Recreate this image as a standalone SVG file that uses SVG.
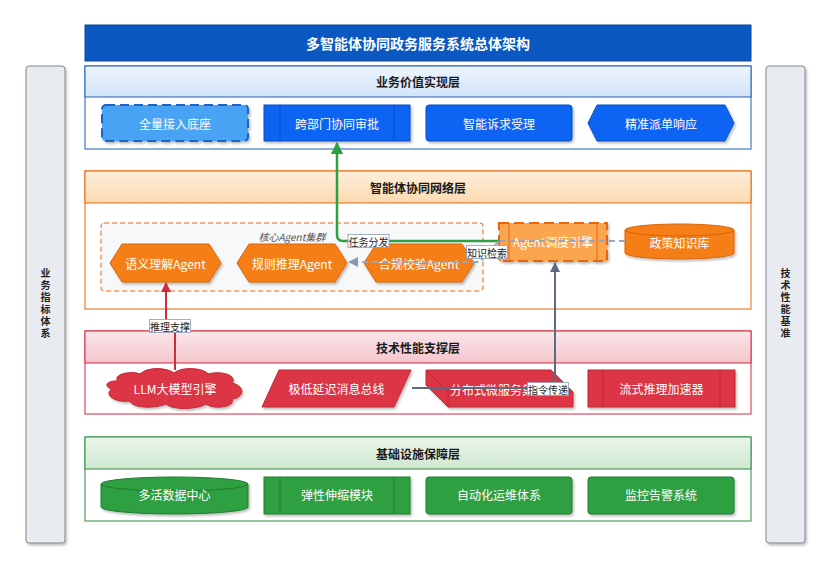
<svg xmlns="http://www.w3.org/2000/svg" width="833" height="572" viewBox="0 0 833 572">
  <defs>
    <linearGradient id="gBlue" x1="0" y1="0" x2="0" y2="1">
      <stop offset="0" stop-color="#eef4fd"/>
      <stop offset="1" stop-color="#d3e4fa"/>
    </linearGradient>
    <linearGradient id="gOrange" x1="0" y1="0" x2="0" y2="1">
      <stop offset="0" stop-color="#fdeedb"/>
      <stop offset="1" stop-color="#fcdab0"/>
    </linearGradient>
    <linearGradient id="gRed" x1="0" y1="0" x2="0" y2="1">
      <stop offset="0" stop-color="#fae6e9"/>
      <stop offset="1" stop-color="#f3c6cd"/>
    </linearGradient>
    <linearGradient id="gGreen" x1="0" y1="0" x2="0" y2="1">
      <stop offset="0" stop-color="#eaf5ea"/>
      <stop offset="1" stop-color="#cfe8d1"/>
    </linearGradient>
    <filter id="shadow" x="-10%" y="-20%" width="130%" height="150%">
      <feDropShadow dx="1.5" dy="2" stdDeviation="1.2" flood-color="#000" flood-opacity="0.25"/>
    </filter>
    <marker id="arrGreen" viewBox="0 0 10 10" refX="9" refY="5" markerWidth="5" markerHeight="5" orient="auto">
      <path d="M0,0 L10,5 L0,10 Z" fill="#2ea043"/>
    </marker>
    <marker id="arrGray" viewBox="0 0 10 10" refX="9" refY="5" markerWidth="5" markerHeight="5" orient="auto">
      <path d="M0,0 L10,5 L0,10 Z" fill="#8a9ab0"/>
    </marker>
    <marker id="arrRed" viewBox="0 0 10 10" refX="9" refY="5" markerWidth="5" markerHeight="5" orient="auto">
      <path d="M0,0 L10,5 L0,10 Z" fill="#d6293b"/>
    </marker>
    <marker id="arrSlate" viewBox="0 0 10 10" refX="9" refY="5" markerWidth="5" markerHeight="5" orient="auto">
      <path d="M0,0 L10,5 L0,10 Z" fill="#5a6a80"/>
    </marker>
  </defs>
  <style>
    text { font-family: "Noto Sans CJK SC", "Noto Sans", "Liberation Sans", sans-serif; }
    .nodeText { font-size: 12px; fill: #ffffff; text-anchor: middle; dominant-baseline: central; }
    .hdrText { font-size: 12px; font-weight: bold; fill: #1a1a1a; text-anchor: middle; dominant-baseline: central; }
    .sideText { font-size: 10px; font-weight: bold; fill: #222; text-anchor: middle; writing-mode: vertical-rl; letter-spacing: 2px; }
    .lbl { font-size: 10px; fill: #222; text-anchor: middle; dominant-baseline: central; }
    .lblBox { fill: #ffffff; stroke: #8a9bb5; stroke-width: 0.8; }
    .side { fill: #e8ebef; stroke: #80858c; stroke-width: 1; filter: url(#shadow); }
    .blueNode { fill: #0d63f2; stroke: #0a4fbf; stroke-width: 1; filter: url(#shadow); }
    .orangeNode { fill: #f57f17; stroke: #d9640b; stroke-width: 1; filter: url(#shadow); }
    .redNode { fill: #dc3545; stroke: #c02636; stroke-width: 1; filter: url(#shadow); }
    .greenNode { fill: #2ea043; stroke: #1f7a31; stroke-width: 1; filter: url(#shadow); }
    .inner { fill: none; stroke-width: 1; }
  </style>

  <rect width="833" height="572" fill="#ffffff"/>

  <!-- side panels -->
  <g id="side-business">
    <rect class="side" x="26" y="66" width="39" height="477" rx="3"/>
    <text class="sideText" x="45.5" y="304">业务指标体系</text>
  </g>
  <g id="side-tech">
    <rect class="side" x="766" y="66" width="39" height="477" rx="3"/>
    <text class="sideText" x="785.5" y="304">技术性能基准</text>
  </g>

  <!-- title -->
  <g id="title">
    <rect x="85" y="25" width="666" height="36" fill="#0b58c2" stroke="#0a4696" stroke-width="1"/>
    <text x="418" y="43" font-size="14px" font-weight="bold" fill="#ffffff" text-anchor="middle" dominant-baseline="central">多智能体协同政务服务系统总体架构</text>
  </g>

  <!-- layer: business value -->
  <g id="layer-business">
    <rect x="85" y="66" width="666" height="83" fill="#ffffff" stroke="#1d5fb8" stroke-width="1"/>
    <rect x="85" y="66" width="666" height="31" fill="url(#gBlue)" stroke="#1d5fb8" stroke-width="1"/>
    <text class="hdrText" x="418" y="81.5">业务价值实现层</text>
  </g>
  <g id="node-access">
    <rect x="102" y="105" width="146" height="36" rx="4" fill="#4aa3f4" stroke="#1a63c8" stroke-width="2" stroke-dasharray="9 5" filter="url(#shadow)"/>
    <text class="nodeText" x="175" y="123">全量接入底座</text>
  </g>
  <g id="node-approval">
    <rect class="blueNode" x="264" y="105" width="146" height="36"/>
    <path class="inner" d="M280,105 V141 M394,105 V141" stroke="#0a4fbf"/>
    <text class="nodeText" x="337" y="123">跨部门协同审批</text>
  </g>
  <g id="node-request">
    <rect class="blueNode" x="426" y="105" width="146" height="36" rx="3"/>
    <text class="nodeText" x="499" y="123">智能诉求受理</text>
  </g>
  <g id="node-dispatch">
    <polygon class="blueNode" points="588,123 597,105 725,105 734,123 725,141 597,141"/>
    <text class="nodeText" x="661" y="123">精准派单响应</text>
  </g>

  <!-- layer: agent network -->
  <g id="layer-agents">
    <rect x="85" y="171" width="666" height="138" fill="#ffffff" stroke="#e8650c" stroke-width="1"/>
    <rect x="85" y="171" width="666" height="32" fill="url(#gOrange)" stroke="#e8650c" stroke-width="1"/>
    <text class="hdrText" x="418" y="187">智能体协同网络层</text>
  </g>
  <g id="cluster-core">
    <rect x="101" y="223" width="382" height="68" rx="3" fill="#f6f8fa" stroke="#e8650c" stroke-width="1" stroke-dasharray="5 3"/>
    <text x="292" y="236" font-size="10px" font-style="italic" fill="#555" text-anchor="middle" dominant-baseline="central">核心Agent集群</text>
  </g>
  <g id="node-semantic">
    <polygon class="orangeNode" points="110,263 122,244 209,244 221,263 209,282 122,282"/>
    <text class="nodeText" x="165.5" y="263">语义理解Agent</text>
  </g>
  <g id="node-reasoning">
    <polygon class="orangeNode" points="237,263 249,244 335,244 347,263 335,282 249,282"/>
    <text class="nodeText" x="292" y="263">规则推理Agent</text>
  </g>
  <g id="node-compliance">
    <polygon class="orangeNode" points="364,263 376,244 462,244 474,263 462,282 376,282"/>
    <text class="nodeText" x="419" y="263">合规校验Agent</text>
  </g>
  <g id="node-scheduler">
    <rect x="499" y="223" width="108" height="38" fill="#fba650" stroke="#e8650c" stroke-width="2" stroke-dasharray="10 5" filter="url(#shadow)"/>
    <path class="inner" d="M509,223 V261 M597,223 V261" stroke="#e8650c" stroke-width="2"/>
    <text class="nodeText" x="553" y="241">Agent调度引擎</text>
  </g>
  <g id="node-policy-db">
    <path class="orangeNode" d="M625,230 A54.5,6 0 0 1 734,230 V253 A54.5,6 0 0 1 625,253 Z"/>
    <path class="inner" d="M625,230 A54.5,6 0 0 0 734,230" stroke="#d9640b"/>
    <text class="nodeText" x="679.5" y="242">政策知识库</text>
  </g>

  <!-- layer: technical support -->
  <g id="layer-tech">
    <rect x="85" y="331" width="666" height="83" fill="#ffffff" stroke="#d6293b" stroke-width="1"/>
    <rect x="85" y="331" width="666" height="32" fill="url(#gRed)" stroke="#d6293b" stroke-width="1"/>
    <text class="hdrText" x="418" y="347">技术性能支撑层</text>
  </g>
  <g id="node-llm">
    <path class="redNode" d="M118,381 C112,375 130,370 140,374 C148,366 168,368 174,373 C182,366 204,368 208,374 C222,370 238,376 232,383 C246,386 244,398 232,399 C236,407 214,410 206,404 C196,410 172,410 166,404 C154,409 132,408 130,401 C112,403 104,393 112,389 C102,386 108,380 118,381 Z"/>
    <text class="nodeText" x="175" y="388">LLM大模型引擎</text>
  </g>
  <g id="node-bus">
    <polygon class="redNode" points="279,370 411,370 394,407 262,407"/>
    <text class="nodeText" x="336.5" y="388">极低延迟消息总线</text>
  </g>
  <g id="node-microservice">
    <polygon class="redNode" points="426,370 551,370 573,392 573,407 448,407 426,385"/>
    <path class="inner" d="M426,370 L448,392 H573 M448,392 V407" stroke="#c02636"/>
    <text class="nodeText" x="498" y="389">分布式微服务集群</text>
  </g>
  <g id="node-accelerator">
    <rect class="redNode" x="588" y="370" width="147" height="37"/>
    <path class="inner" d="M603,370 V407 M720,370 V407" stroke="#c02636"/>
    <text class="nodeText" x="661.5" y="388.5">流式推理加速器</text>
  </g>

  <!-- layer: infrastructure -->
  <g id="layer-infra">
    <rect x="85" y="437" width="666" height="84" fill="#ffffff" stroke="#2f8a3e" stroke-width="1"/>
    <rect x="85" y="437" width="666" height="32" fill="url(#gGreen)" stroke="#2f8a3e" stroke-width="1"/>
    <text class="hdrText" x="418" y="453">基础设施保障层</text>
  </g>
  <g id="node-datacenter">
    <path class="greenNode" d="M101,484 A73.5,7 0 0 1 248,484 V507 A73.5,7 0 0 1 101,507 Z"/>
    <path class="inner" d="M101,484 A73.5,7 0 0 0 248,484" stroke="#1f7a31"/>
    <text class="nodeText" x="174.5" y="494">多活数据中心</text>
  </g>
  <g id="node-scaling">
    <rect class="greenNode" x="264" y="477" width="146" height="37"/>
    <path class="inner" d="M280,477 V514 M394,477 V514" stroke="#1f7a31"/>
    <text class="nodeText" x="337" y="494">弹性伸缩模块</text>
  </g>
  <g id="node-ops">
    <rect class="greenNode" x="426" y="477" width="146" height="37" rx="3"/>
    <text class="nodeText" x="499" y="494">自动化运维体系</text>
  </g>
  <g id="node-monitor">
    <rect class="greenNode" x="588" y="477" width="146" height="37" rx="3"/>
    <text class="nodeText" x="661" y="494">监控告警系统</text>
  </g>

  <!-- connectors -->
  <g id="connectors" fill="none">
    <path d="M625,241 H499" stroke="#9aa6b8" stroke-width="2" stroke-dasharray="6 4"/>
    <path d="M500,241 H343 Q337,241 337,235 V143" stroke="#2ea043" stroke-width="2.5" marker-end="url(#arrGreen)"/>
    <path d="M499,241 L480,262 H349" stroke="#9aa6b8" stroke-width="2" stroke-dasharray="6 4" marker-end="url(#arrGray)"/>
    <path d="M175,370 V326 H166 V283" stroke="#d6293b" stroke-width="2" marker-end="url(#arrRed)"/>
    <path d="M412,388 H555 V263" stroke="#5a6a80" stroke-width="2" marker-end="url(#arrSlate)"/>

    <rect class="lblBox" x="348" y="234.5" width="41" height="13"/>
    <text class="lbl" x="368.5" y="241">任务分发</text>
    <rect class="lblBox" x="466.5" y="245.5" width="41" height="13"/>
    <text class="lbl" x="487" y="252">知识检索</text>
    <rect class="lblBox" x="149.5" y="319.5" width="41" height="13"/>
    <text class="lbl" x="170" y="326">推理支撑</text>
    <rect class="lblBox" x="527.5" y="382.5" width="41" height="13"/>
    <text class="lbl" x="548" y="389">指令传递</text>
  </g>
</svg>
